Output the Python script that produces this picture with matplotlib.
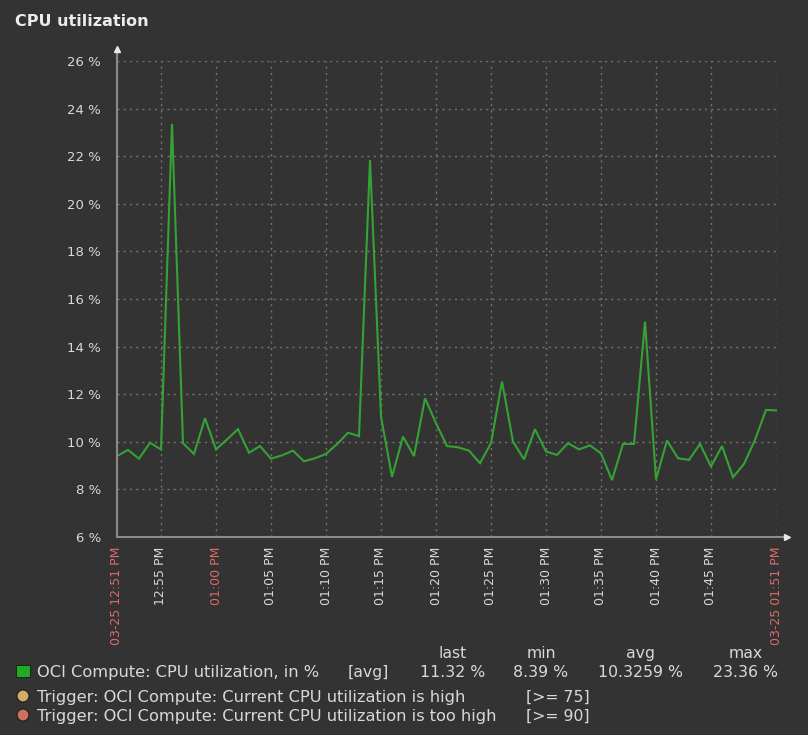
import matplotlib
matplotlib.use("Agg")
import matplotlib.pyplot as plt
from matplotlib.patches import Rectangle, Ellipse

# ---- data ----
minutes = list(range(0, 61))  # minutes after 12:51 PM, 1-minute samples
cpu = [9.40, 9.66, 9.29, 9.96, 9.68, 23.36, 9.94, 9.49, 10.99, 9.68,
       10.10, 10.53, 9.54, 9.82, 9.29, 9.43, 9.63, 9.18, 9.31, 9.49,
       9.90, 10.38, 10.24, 21.84, 11.06, 8.53, 10.22, 9.40, 11.83, 10.78,
       9.82, 9.77, 9.63, 9.10, 9.94, 12.53, 10.01, 9.26, 10.53, 9.59,
       9.45, 9.94, 9.68, 9.85, 9.51, 8.39, 9.91, 9.91, 15.05, 8.42,
       10.05, 9.31, 9.24, 9.91, 8.96, 9.82, 8.51, 9.07, 10.08, 11.34,
       11.32]
tick_pos = [0, 4, 9, 14, 19, 24, 29, 34, 39, 44, 49, 54, 60]
tick_labels = ["03-25 12:51 PM", "12:55 PM", "01:00 PM", "01:05 PM", "01:10 PM",
               "01:15 PM", "01:20 PM", "01:25 PM", "01:30 PM", "01:35 PM",
               "01:40 PM", "01:45 PM", "03-25 01:51 PM"]
red_ticks = [0, 2, 12]
y_ticks = [6, 8, 10, 12, 14, 16, 18, 20, 22, 24, 26]
y_labels = ["%d %%" % v for v in y_ticks]

legend_name = "OCI Compute: CPU utilization, in %"
legend_func = "[avg]"
stat_headers = ["last", "min", "avg", "max"]
stat_values = ["11.32 %", "8.39 %", "10.3259 %", "23.36 %"]
triggers = ["Trigger: OCI Compute: Current CPU utilization is high",
            "Trigger: OCI Compute: Current CPU utilization is too high"]
trigger_thr = ["[>= 75]", "[>= 90]"]

# ---- style ----
W, H = 808, 735
BG = "#333333"
TXT = "#d8d8d8"
RED = "#dc6b6b"
GREEN = "#35a235"
GRID = "#747474"
AX = "#8a8a8a"
FONT = "DejaVu Sans"

fig = plt.figure(figsize=(W / 100, H / 100), dpi=100, facecolor=BG)
x0, x1, ytop, ybot = 117, 777, 61, 537
ax = fig.add_axes([x0 / W, 1 - ybot / H, (x1 - x0) / W, (ybot - ytop) / H])
ax.set_facecolor(BG)

ax.plot(minutes, cpu, color=GREEN, lw=1.5, zorder=3, solid_joinstyle="miter")
ax.set_xlim(0, 60)
ax.set_ylim(6, 26)

for s in ax.spines.values():
    s.set_visible(False)

# grid
for v in y_ticks[1:]:
    ax.axhline(v, color=GRID, lw=1.0, ls=(0, (1.5, 3)), zorder=1)
for p in tick_pos[1:]:
    ax.axvline(p, color=GRID, lw=1.0, ls=(0, (1.5, 3)), zorder=1)

# axes with arrows
ax.plot([0, 0], [0, 1 + 11 / 476], transform=ax.transAxes, color=AX, lw=1.5,
        clip_on=False, zorder=4)
ax.plot([0, 1 + 8 / 660], [0, 0], transform=ax.transAxes, color=AX, lw=1.5,
        clip_on=False, zorder=4)
ax.plot([0], [1 + 12 / 476], marker="^", ms=5, color="#e8e8e8",
        transform=ax.transAxes, clip_on=False, zorder=5)
ax.plot([1 + 10 / 660], [0], marker=">", ms=5, color="#e8e8e8",
        transform=ax.transAxes, clip_on=False, zorder=5)

ax.set_yticks(y_ticks)
ax.set_yticklabels(y_labels, fontsize=9.5, color=TXT, family=FONT)
ax.tick_params(axis="y", length=0, pad=11.5)
ax.set_xticks(tick_pos)
ax.set_xticklabels(tick_labels, rotation=90, fontsize=9, family=FONT, va="top", ha="center")
ax.tick_params(axis="x", length=0, pad=7)
for i, lab in enumerate(ax.get_xticklabels()):
    lab.set_color(RED if i in red_ticks else TXT)

# title
fig.text(15 / W, 1 - 21 / H, "CPU utilization", fontsize=11.5, fontweight="bold",
         color="#ececec", family=FONT, va="center", ha="left")

def ft(x, y, s, ha="left", fs=11.3, **kw):
    fig.text(x / W, 1 - y / H, s, fontsize=fs, color=TXT, family=FONT,
             va="center_baseline", ha=ha, **kw)

# legend headers
header_x = [467, 556, 655, 763]
for hx, h in zip(header_x, stat_headers):
    ft(hx, 652, h, ha="right")
value_x = [485, 568, 683, 778]
fig.patches.append(Rectangle((16 / W, 1 - 677 / H), 14 / W, 12 / H,
                             transform=fig.transFigure, facecolor="#22aa22",
                             edgecolor="#1a1a1a", lw=0.6, figure=fig))
ft(37, 671, legend_name, fs=11.7)
ft(348, 671, legend_func)
for vx, v in zip(value_x, stat_values):
    ft(vx, 671, v, ha="right")

trig_colors = ["#d2ac62", "#cc705f"]
for i, (t, thr) in enumerate(zip(triggers, trigger_thr)):
    yy = 696 + 19 * i
    fig.patches.append(Ellipse((23 / W, 1 - yy / H), 12 / W, 12 / H,
                               transform=fig.transFigure, facecolor=trig_colors[i],
                               edgecolor="#1e1e1e", lw=0.8, figure=fig))
    ft(37, yy, t, fs=11.7)
    ft(526, yy, thr)

fig.savefig("out.png", dpi=100, facecolor=BG)
